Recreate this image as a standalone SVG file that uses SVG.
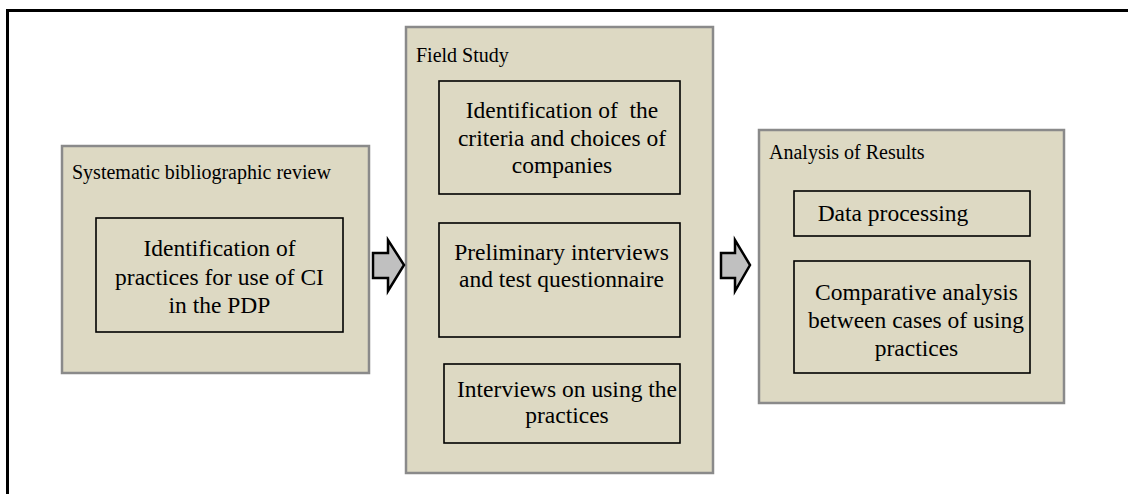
<svg xmlns="http://www.w3.org/2000/svg" width="1128" height="494" viewBox="0 0 1128 494">
<style>
.bg{fill:#ffffff}
.frame{stroke:#000;stroke-width:3;fill:none}
.outer{fill:#DDD9C3;stroke:#8a8a8a;stroke-width:2.5}
.inner{fill:none;stroke:#000;stroke-width:1.6}
.title{font-family:"Liberation Serif","Times New Roman",serif;font-size:20px;fill:#000}
.lbl{font-family:"Liberation Serif","Times New Roman",serif;font-size:23.5px;fill:#000;text-anchor:middle}
.arrow{fill:#C0C0C0;stroke:#000;stroke-width:2.5;stroke-linejoin:miter}
</style>
<rect class="bg" x="0" y="0" width="1128" height="494"/>
<g id="frame">
<path class="frame" d="M7.5,494 V10.5 H1128"/>
</g>
<g id="review">
<rect class="outer" x="62" y="146" width="307" height="227"/>
<text class="title" x="72" y="179">Systematic bibliographic review</text>
<g id="review-practices" font-family="Liberation Serif, serif">
<rect class="inner" x="96" y="218" width="247" height="114"/>
<text class="lbl" x="219.5" y="256">Identification of</text>
<text class="lbl" x="219.5" y="285">practices for use of CI</text>
<text class="lbl" x="219.5" y="313">in the PDP</text>
</g>
</g>
<g id="field">
<rect class="outer" x="406" y="27" width="307" height="446"/>
<text class="title" x="416" y="62">Field Study</text>
<g id="field-criteria" font-family="Liberation Serif, serif">
<rect class="inner" x="439" y="81" width="241" height="113"/>
<text class="lbl" x="562" y="118" xml:space="preserve">Identification of  the</text>
<text class="lbl" x="562" y="146">criteria and choices of</text>
<text class="lbl" x="562" y="173">companies</text>
</g>
<g id="field-preliminary" font-family="Liberation Serif, serif">
<rect class="inner" x="439" y="223" width="241" height="114"/>
<text class="lbl" x="561.5" y="260">Preliminary interviews</text>
<text class="lbl" x="561.5" y="287">and test questionnaire</text>
</g>
<g id="field-interviews" font-family="Liberation Serif, serif">
<rect class="inner" x="444" y="364" width="236" height="79"/>
<text class="lbl" x="567" y="397">Interviews on using the</text>
<text class="lbl" x="567" y="423">practices</text>
</g>
</g>
<g id="analysis">
<rect class="outer" x="759" y="130" width="305" height="273"/>
<text class="title" x="769" y="159">Analysis of Results</text>
<g id="analysis-data" font-family="Liberation Serif, serif">
<rect class="inner" x="794" y="191" width="236" height="45"/>
<text class="lbl" x="893" y="221">Data processing</text>
</g>
<g id="analysis-comparative" font-family="Liberation Serif, serif">
<rect class="inner" x="794" y="261" width="236" height="112"/>
<text class="lbl" x="916.5" y="300">Comparative analysis</text>
<text class="lbl" x="916" y="328">between cases of using</text>
<text class="lbl" x="916.5" y="356">practices</text>
</g>
</g>
<g id="connectors">
<path class="arrow" d="M373,253 H388 V240 L404,265 L388,291 V278 H373 Z"/>
<path class="arrow" d="M721,253 H735 V240 L750,265 L735,291 V278 H721 Z"/>
</g>
</svg>
